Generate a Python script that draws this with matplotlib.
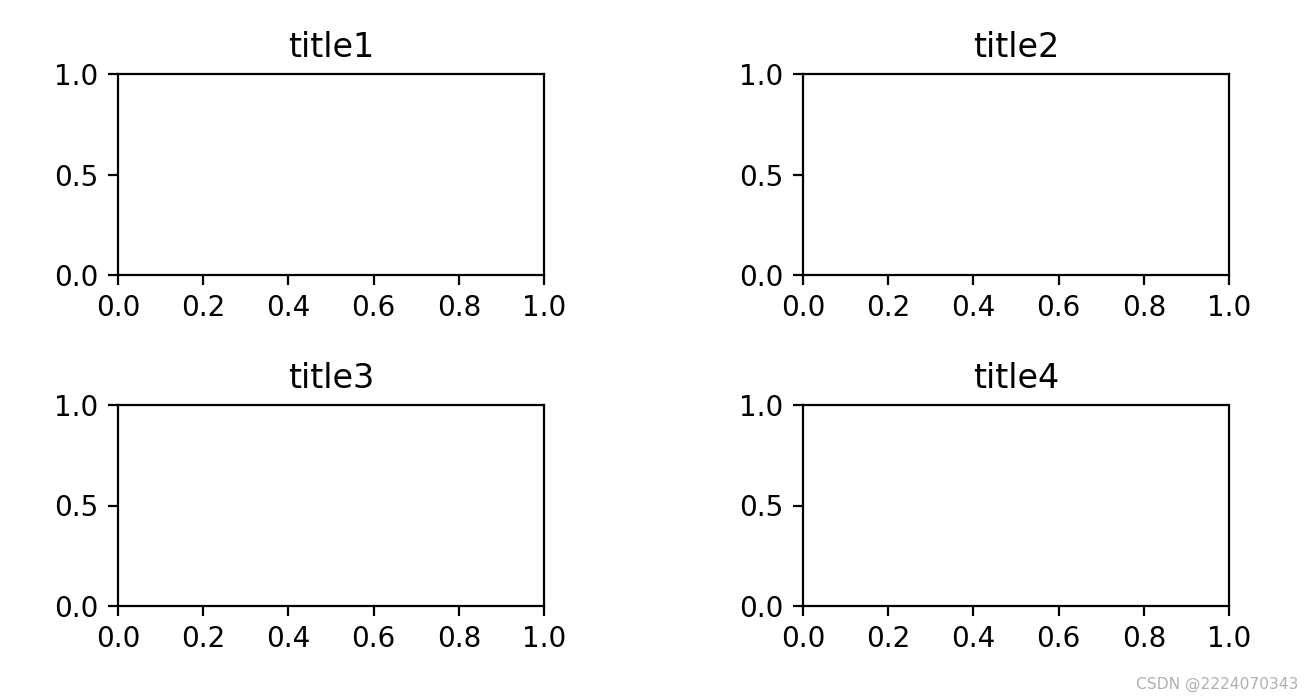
import matplotlib
matplotlib.use("Agg")
import matplotlib.pyplot as plt

# Subplot titles and the shared tick values.
titles = ["title1", "title2", "title3", "title4"]
xticks = [0.0, 0.2, 0.4, 0.6, 0.8, 1.0]
yticks = [0.0, 0.5, 1.0]

W, H = 1313, 699
fig = plt.figure(figsize=(W / 200, H / 200), dpi=200)

# Axes boxes in pixels: left, top, right, bottom.
boxes = [(118, 74, 544, 275), (803, 74, 1229, 275),
         (118, 405, 544, 606), (803, 405, 1229, 606)]

for title, (l, t, r, b) in zip(titles, boxes):
    ax = fig.add_axes([l / W, 1 - b / H, (r - l) / W, (b - t) / H])
    ax.set_xlim(0, 1)
    ax.set_ylim(0, 1)
    ax.set_xticks(xticks)
    ax.set_yticks(yticks)
    ax.set_title(title)

fig.text(1298 / W, 1 - 684 / H, "CSDN @2224070343", ha="right", va="center",
         fontsize=5.6, color="#b0b0b0")

fig.savefig("out.png", dpi=200)
